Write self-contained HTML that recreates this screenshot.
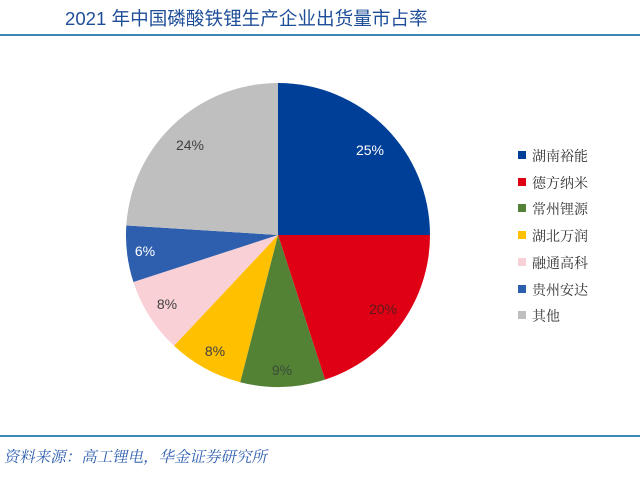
<!DOCTYPE html>
<html><head><meta charset="utf-8"><style>
body{margin:0;width:640px;height:472px;background:#fff;overflow:hidden}
</style></head><body>
<svg width="640" height="472" xmlns="http://www.w3.org/2000/svg">
<text x="65" y="25" font-family="Liberation Sans, Noto Sans CJK SC, sans-serif" font-size="18.6" fill="#1f4e99">2021 年中国磷酸铁锂生产企业出货量市占率</text>
<rect x="0" y="34" width="640" height="2" fill="#3a87b8"/>
<path d="M278,235 L278,83 A152,152 0 0 1 430,235 Z" fill="#003f98"/>
<path d="M278,235 L430,235 A152,152 0 0 1 325,379.6 Z" fill="#e00015"/>
<path d="M278,235 L325,379.6 A152,152 0 0 1 240.2,382.2 Z" fill="#548235"/>
<path d="M278,235 L240.2,382.2 A152,152 0 0 1 174,345.8 Z" fill="#ffc000"/>
<path d="M278,235 L174,345.8 A152,152 0 0 1 133.4,282 Z" fill="#f8d0d6"/>
<path d="M278,235 L133.4,282 A152,152 0 0 1 126.3,225.5 Z" fill="#2e5fae"/>
<path d="M278,235 L126.3,225.5 A152,152 0 0 1 278,83 Z" fill="#bfbfbf"/>
<g font-family="Liberation Sans, sans-serif" font-size="14" text-anchor="middle">
<text x="370" y="155" fill="#fff">25%</text>
<text x="383" y="314" fill="#5a1a1a">20%</text>
<text x="282" y="375" fill="#3a4a3a">9%</text>
<text x="215" y="356" fill="#404040">8%</text>
<text x="167" y="309" fill="#404040">8%</text>
<text x="145" y="256" fill="#fff">6%</text>
<text x="190" y="150" fill="#404040">24%</text>
</g>
<g font-family="Noto Serif CJK SC, serif" font-size="14" fill="#333">
<rect x="518" y="151" width="8" height="8" fill="#003f98"/><text x="532" y="161">湖南裕能</text>
<rect x="518" y="178" width="8" height="8" fill="#e00015"/><text x="532" y="188">德方纳米</text>
<rect x="518" y="204" width="8" height="8" fill="#548235"/><text x="532" y="214">常州锂源</text>
<rect x="518" y="231" width="8" height="8" fill="#ffc000"/><text x="532" y="241">湖北万润</text>
<rect x="518" y="258" width="8" height="8" fill="#f8d0d6"/><text x="532" y="268">融通高科</text>
<rect x="518" y="285" width="8" height="8" fill="#2e5fae"/><text x="532" y="295">贵州安达</text>
<rect x="518" y="311" width="8" height="8" fill="#bfbfbf"/><text x="532" y="321">其他</text>
</g>
<rect x="0" y="435" width="640" height="2" fill="#3a87b8"/>
<text x="4" y="462" font-family="Noto Serif CJK SC, serif" font-size="15.5" fill="#2e5fae" transform="skewX(-12) translate(98,0)">资料来源：高工锂电，华金证券研究所</text>
</svg>
</body></html>
